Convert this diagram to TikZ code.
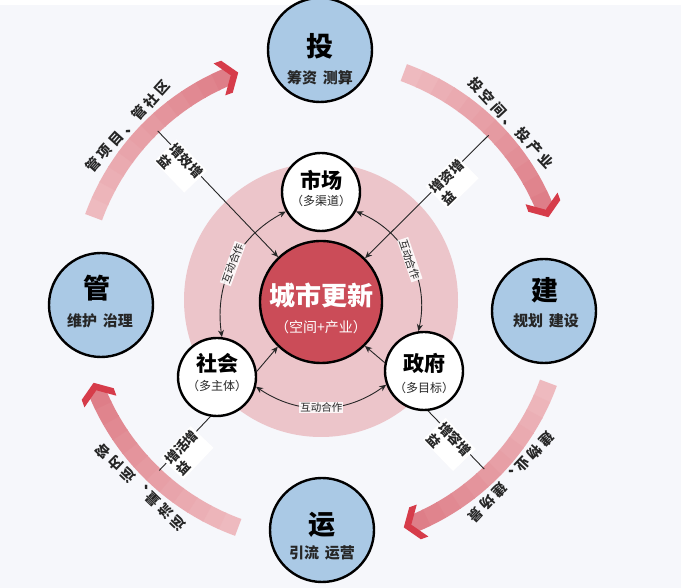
\documentclass[tikz,border=0pt]{standalone}
\usepackage{fontspec}
\setmainfont{Noto Sans CJK SC}
\usetikzlibrary{arrows.meta,calc}
\definecolor{bgc}{RGB}{246,247,251}
\definecolor{pinkdisk}{RGB}{236,197,202}
\definecolor{redc}{RGB}{203,76,88}
\definecolor{bluec}{RGB}{170,201,229}
\definecolor{bandA}{RGB}{238,186,191}
\definecolor{bandB}{RGB}{222,126,136}
\definecolor{headc}{RGB}{214,60,74}
\definecolor{txtc}{RGB}{38,38,38}
\newcommand\bandarrow[1]{%
  \foreach \i in {0,...,11}{%
    \pgfmathsetmacro\sa{#1+70-\i*4.008}%
    \pgfmathsetmacro\ea{max(#1+21.9,#1+70-(\i+1)*4.008-0.3)}%
    \pgfmathtruncatemacro\mix{\i*100/11}%
    \draw[line width=18pt, color=bandB!\mix!bandA] ($(C)+(\sa:242)$) arc[start angle=\sa, end angle=\ea, radius=242pt];
  }%
  \begin{scope}[shift={(C)}, rotate=#1+20]
    \fill[headc] (242,0) -- (259,12) -- (259,20) -- (242,8) -- (225,20) -- (225,12) -- cycle;
  \end{scope}%
}
\newcommand\chgap{\kern3.3pt}
\begin{document}
\begin{tikzpicture}[x=1pt,y=1pt,
  bandtxt/.style={font=\fontsize{14}{16}\selectfont\bfseries, text=txtc, inner sep=0pt},
  bluen/.style={circle, draw=black, line width=2.4pt, fill=bluec, minimum size=104pt, inner sep=0pt},
  satn/.style={circle, draw=black, line width=2.4pt, fill=white, minimum size=78pt, inner sep=0pt},
  redn/.style={circle, draw=black, line width=2.4pt, fill=redc, minimum size=122pt, inner sep=0pt},
  btitle/.style={font=\fontsize{27}{30}\selectfont\bfseries, text=black, inner sep=0pt},
  bsub/.style={font=\fontsize{15}{17}\selectfont\bfseries, text=txtc, inner sep=0pt},
  stitle/.style={font=\fontsize{21}{24}\selectfont\bfseries, text=black, inner sep=0pt},
  ssub/.style={font=\fontsize{12}{14}\selectfont, text=txtc, inner sep=0pt},
  conn/.style={draw=black!85, line width=0.9pt},
  tip/.style={-{Stealth[length=7pt,width=6pt]}},
  dtip/.style={{Stealth[length=7pt,width=6pt]}-{Stealth[length=7pt,width=6pt]}},
  boxlab/.style={font=\fontsize{13.5}{16}\selectfont\bfseries, text=txtc, fill=white, inner sep=1.5pt, align=left},
  hdlab/.style={font=\fontsize{10.5}{12}\selectfont, text=txtc, fill=white, fill opacity=0.85, text opacity=1, inner sep=1pt}
]
\useasboundingbox (0,0) rectangle (681,588);
\fill[bgc] (0,0) rectangle (681,588);
\fill[white] (0,583) rectangle (681,588);
\coordinate (C) at (321,288);

% pink disk
\fill[pinkdisk] (C) circle[radius=137pt];

% big arrows
\bandarrow{0}
\bandarrow{90}
\bandarrow{180}
\bandarrow{270}

% labels along the arrows
\node[bandtxt, rotate=48] (lab1) at ($(C)+(138:260)$) {管\chgap 项\chgap 目\chgap 、\chgap 管\chgap 社\chgap 区};
\node[bandtxt, rotate=-47] (lab2) at ($(C)+(43:260)$) {投\chgap 空\chgap 间\chgap 、\chgap 投\chgap 产\chgap 业};
\node[bandtxt, rotate=-133] (lab3) at ($(C)+(-43:260)$) {建\chgap 物\chgap 业\chgap 、\chgap 建\chgap 场\chgap 景};
\node[bandtxt, rotate=136] (lab4) at ($(C)+(226:260)$) {运\chgap 流\chgap 量\chgap 、\chgap 运\chgap 内\chgap 容};

% central circle
\node[redn] (red) at (321,286) {};

% radial lines
\coordinate (tlS) at ($(C)+(134:235)$);
\coordinate (trS) at ($(C)+(44.5:235)$);
\coordinate (blS) at ($(C)+(226.5:235)$);
\coordinate (blE) at ($(C)+(226.5:120)$);
\coordinate (brS) at ($(C)+(-46:235)$);
\coordinate (brE) at ($(C)+(-46:120)$);
\draw[conn,tip] (tlS) -- (red);
\draw[conn,tip] (trS) -- (red);
\draw[conn] (blS) -- (blE);
\draw[conn] (brS) -- (brE);

% satellites
\node[satn] (mkt) at (321,396) {};
\node[satn] (soc) at (217,211) {};
\node[satn] (gov) at (424,217) {};

% interaction curves
\draw[conn,dtip] (mkt.209) to[bend right=35] node[hdlab, rotate=70] {互动合作} (soc.83);
\draw[conn,dtip] (mkt.-29) to[bend left=40] node[hdlab, rotate=-71] {互动合作} (gov.98);
\draw[conn,dtip] (soc.-14) to[bend right=35] node[hdlab] {互动合作} (gov.200);

% satellites to center
\draw[conn,tip] (soc.8) -- (red.226);
\draw[conn,tip] (gov.168) -- (red.-45);

% satellite texts
\node[stitle] at (321,408) {市场};
\node[ssub] at (321,387) {（多渠道）};
\node[stitle] at (217,225) {社会};
\node[ssub] at (217,202) {（多主体）};
\node[stitle] at (424,225) {政府};
\node[ssub] at (424,200) {（多目标）};

% central texts
\node[font=\fontsize{26}{30}\selectfont\bfseries, text=white, inner sep=0pt] at (321,292) {城市更新};
\node[font=\fontsize{14}{16}\selectfont, text=white, inner sep=0pt] at (321,261) {（空间+产业）};

% blue circles
\node[bluen] (tou) at (320,538) {};
\node[btitle] at (320,542) {投};
\node[bsub] at (320,510) {筹资\hspace{0.4em}测算};
\node[bluen] (jian) at (544,277) {};
\node[btitle] at (545,298) {建};
\node[bsub] at (546,267) {规划\hspace{0.4em}建设};
\node[bluen] (yun) at (322,58) {};
\node[btitle] at (322,63) {运};
\node[bsub] at (322,35) {引流\hspace{0.4em}运营};
\node[bluen] (guan) at (101,283) {};
\node[btitle] at (97,300) {管};
\node[bsub] at (100,267) {维护\hspace{0.4em}治理};

% boxed labels on radial lines (first line centred on the line)
\node[boxlab, rotate=-46] (la) at ($(C)+(134:194)+(-136:8)$) {增效增\\益};
\node[boxlab, rotate=44.5] (lb) at ($(C)+(44.5:176)+(-45.5:8)$) {增资增\\益};
\node[boxlab, rotate=46.5] (lc) at ($(C)+(226.5:203)+(-43.5:8)$) {增活增\\益};
\node[boxlab, rotate=-46] (ld) at ($(C)+(-46:193)+(-136:8)$) {增容增\\益};
\end{tikzpicture}
\end{document}
